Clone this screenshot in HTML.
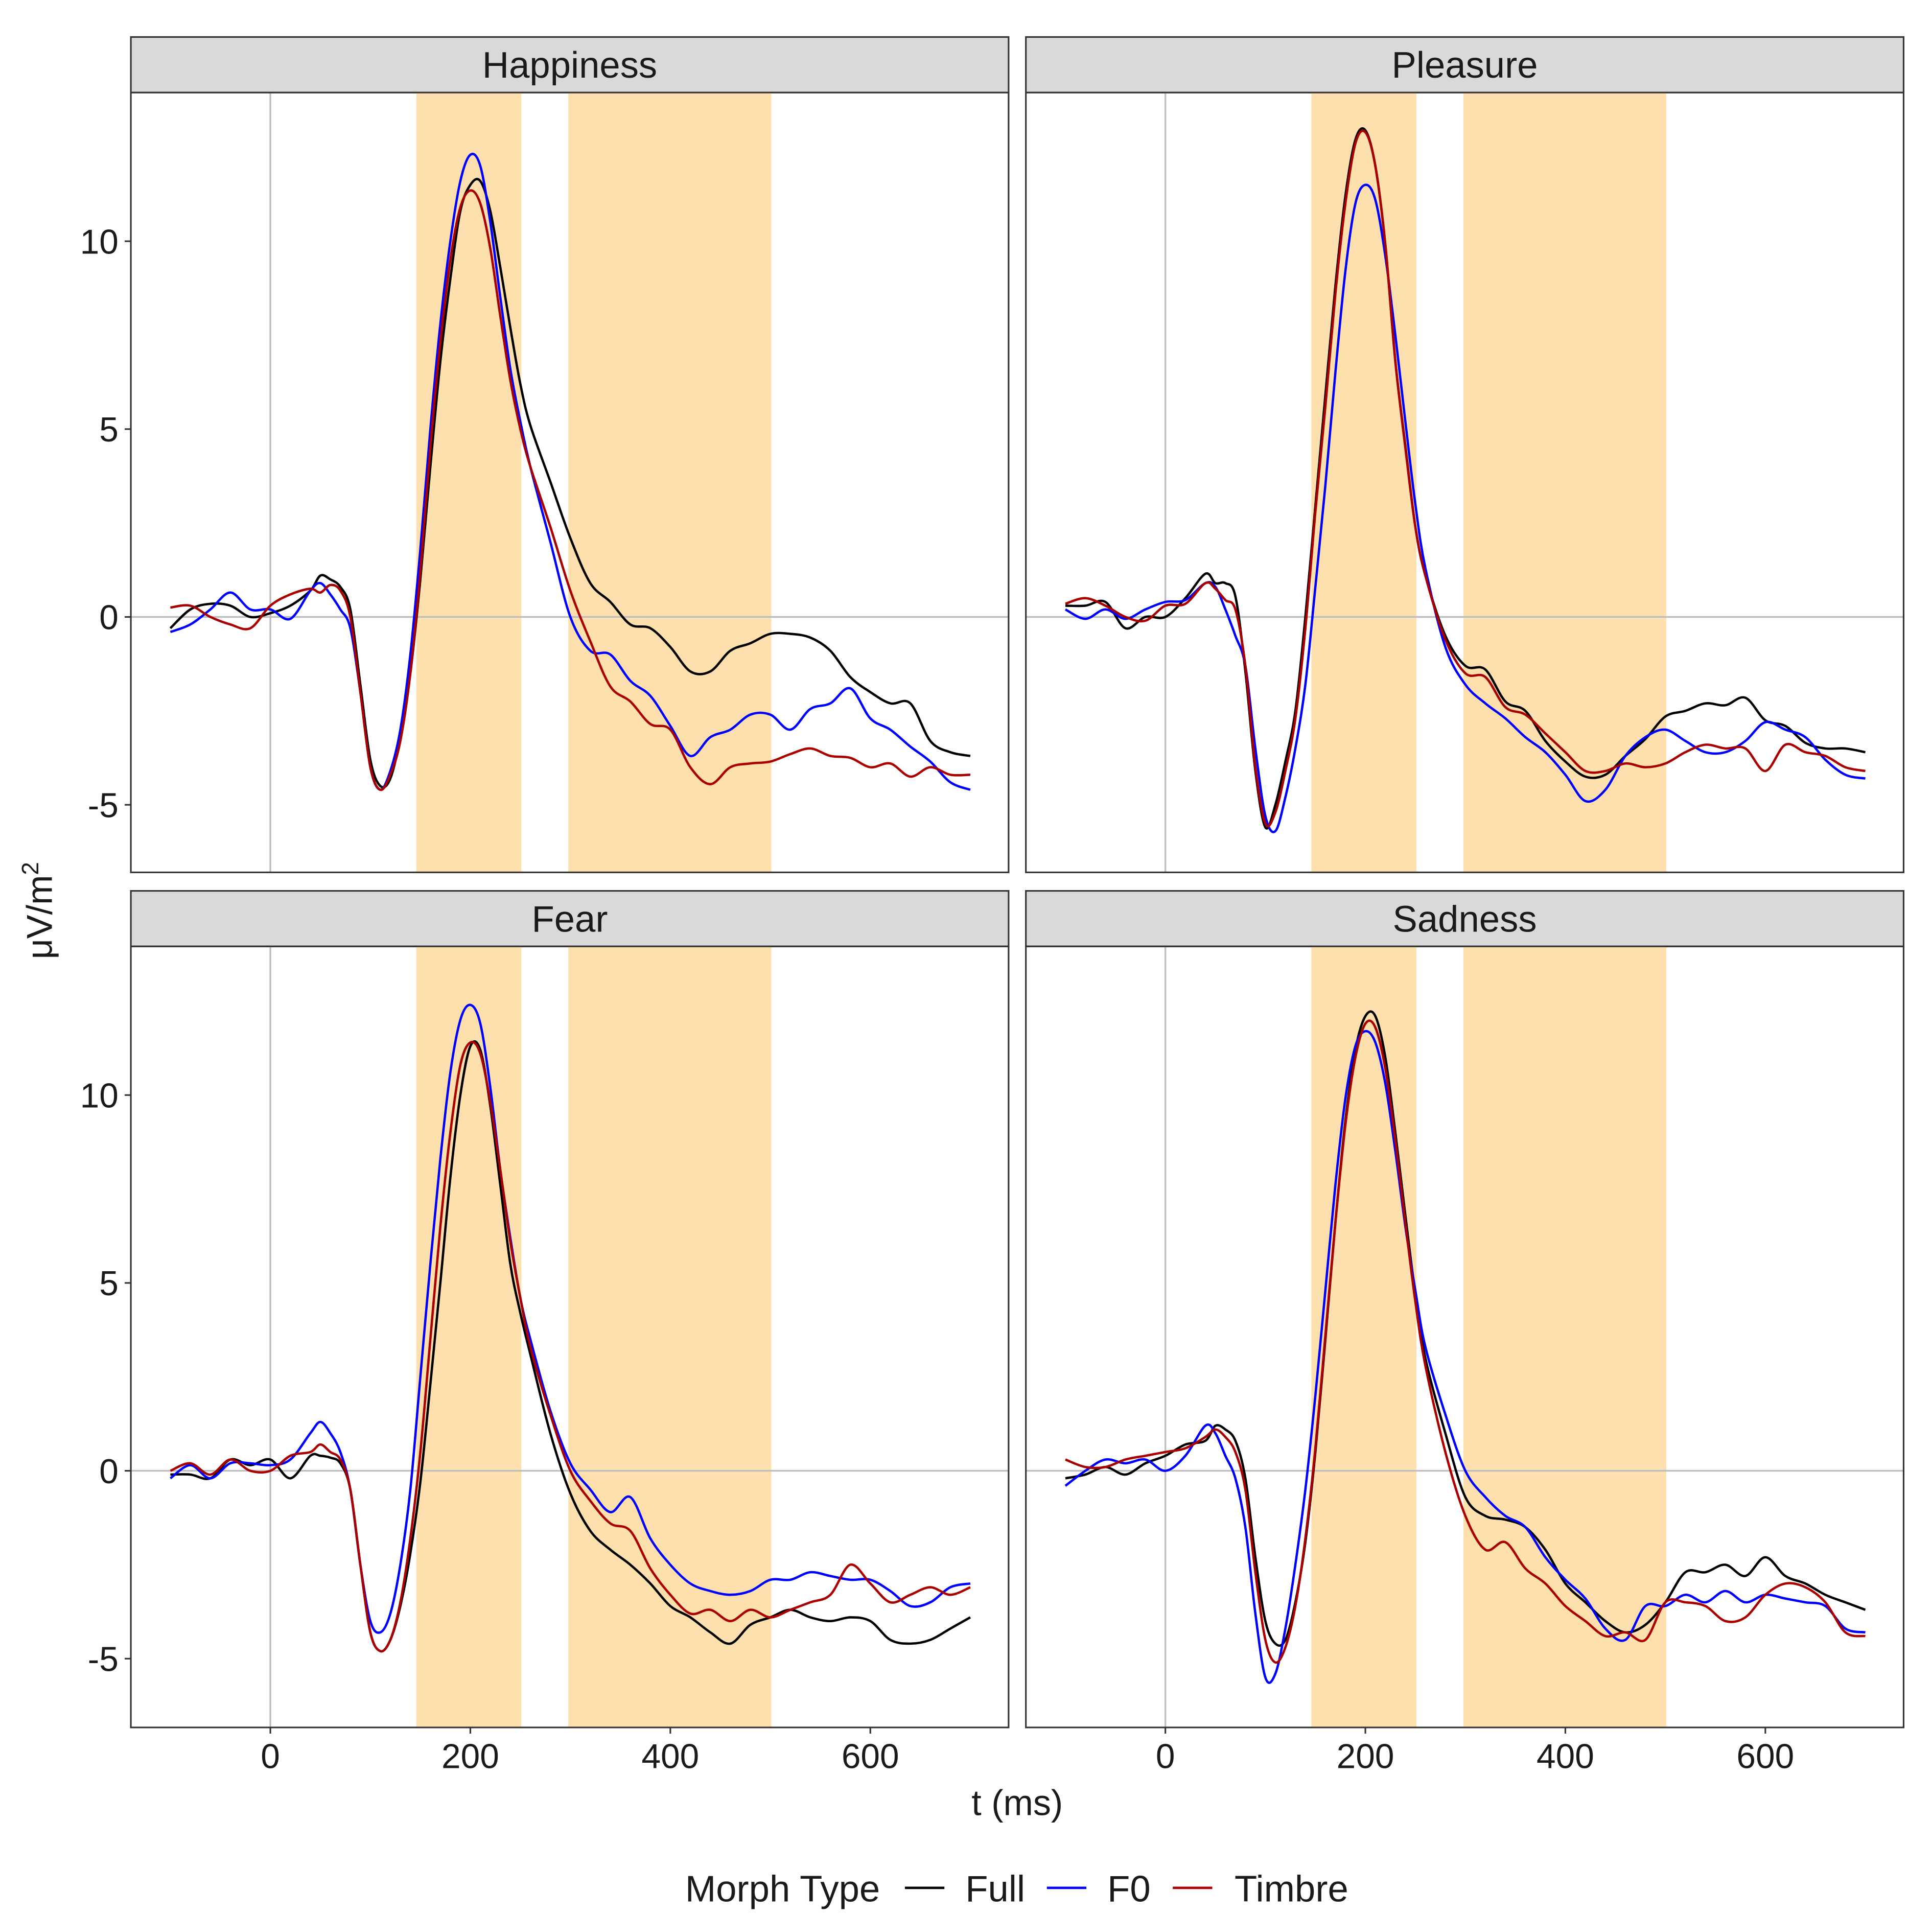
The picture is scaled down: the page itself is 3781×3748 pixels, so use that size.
<!DOCTYPE html>
<html><head><meta charset="utf-8"><style>
html,body{margin:0;padding:0;background:#fff;}
svg{display:block;}
text{font-family:"Liberation Sans",Arial,sans-serif;fill:#1a1a1a;}
</style></head><body>
<svg id="chart" width="3781" height="3748" viewBox="0 0 1565 1552" preserveAspectRatio="none" xmlns="http://www.w3.org/2000/svg">
<rect x="0" y="0" width="1565" height="1552" fill="#fff"/>
<g id="panels"></g>
<text x="42" y="738" font-size="29" text-anchor="middle" transform="rotate(-90 42 738)">μV/m<tspan font-size="19" dy="-11">2</tspan></text>
<text x="824" y="1471" font-size="29" text-anchor="middle">t (ms)</text>
<g>
<text x="555" y="1541" font-size="30">Morph Type</text>
<line x1="733" y1="1530" x2="765" y2="1530" stroke="#000" stroke-width="2"/>
<text x="782" y="1541" font-size="30">Full</text>
<line x1="848" y1="1530" x2="880" y2="1530" stroke="#0000ff" stroke-width="2"/>
<text x="897" y="1541" font-size="30">F0</text>
<line x1="950" y1="1530" x2="982" y2="1530" stroke="#aa0000" stroke-width="2"/>
<text x="1000" y="1541" font-size="30">Timbre</text>
</g>
</svg>
<script>
const times=[-100,-80,-60,-40,-20,0,20,40,50,60,70,80,90,100,110,120,130,140,150,160,170,180,190,200,210,220,230,240,250,260,280,300,320,340,360,380,400,420,440,460,480,500,520,540,560,580,600,620,640,660,680,700];
const panelNames=["Happiness","Pleasure","Fear","Sadness"];
const seriesNames=["Full","F0","Timbre"];
const yTicks=[-5,0,5,10];
const xTicks=[0,200,400,600];
const windowsMs=[[146,251],[298,501]];

const happyFull=[-0.3,0.2,0.35,0.3,0.0,0.1,0.3,0.7,1.1,1.0,0.8,0.2,-1.8,-3.8,-4.5,-4.3,-3.2,-1.5,1.0,4.0,6.8,9.0,10.8,11.5,11.6,10.8,9.3,7.7,6.2,5.1,3.6,2.1,0.9,0.4,-0.2,-0.3,-0.8,-1.45,-1.45,-0.9,-0.7,-0.45,-0.45,-0.55,-0.9,-1.6,-2.0,-2.3,-2.3,-3.3,-3.6,-3.7];
const happyF0=[-0.4,-0.2,0.2,0.65,0.2,0.2,-0.05,0.7,0.9,0.6,0.2,-0.3,-2.0,-4.0,-4.6,-4.1,-3.0,-1.0,1.8,5.0,7.8,10.0,11.6,12.3,12.0,10.5,8.5,6.6,5.2,4.0,2.0,0.0,-0.9,-1.0,-1.7,-2.1,-2.9,-3.7,-3.2,-3.0,-2.6,-2.6,-3.0,-2.45,-2.3,-1.9,-2.7,-3.0,-3.45,-3.85,-4.4,-4.6];
const happyTimbre=[0.25,0.3,0.0,-0.2,-0.3,0.3,0.6,0.75,0.65,0.85,0.7,0.0,-2.0,-4.0,-4.6,-4.2,-3.3,-1.5,1.2,4.5,7.3,9.5,10.9,11.35,11.0,9.8,8.0,6.3,5.0,4.0,2.4,0.7,-0.65,-1.85,-2.25,-2.85,-3.0,-4.0,-4.45,-4.0,-3.9,-3.85,-3.65,-3.5,-3.7,-3.75,-4.0,-3.9,-4.25,-4.0,-4.2,-4.2];
const pleasFull=[0.3,0.3,0.4,-0.3,0.0,0.0,0.5,1.15,0.9,0.9,0.55,-1.45,-4.1,-5.6,-5.0,-3.85,-2.5,0.0,2.95,5.9,8.8,11.2,12.7,12.95,12.0,9.9,6.8,4.55,2.4,1.1,-0.5,-1.3,-1.4,-2.25,-2.5,-3.3,-3.85,-4.25,-4.2,-3.7,-3.25,-2.65,-2.5,-2.3,-2.35,-2.15,-2.75,-2.9,-3.35,-3.5,-3.5,-3.6];
const pleasF0=[0.2,-0.05,0.2,-0.05,0.2,0.4,0.45,0.9,0.8,0.2,-0.5,-1.3,-3.5,-5.3,-5.7,-4.8,-3.5,-1.8,0.8,3.5,6.5,9.2,11.0,11.5,11.1,9.6,7.5,5.2,3.0,1.3,-0.8,-1.8,-2.3,-2.7,-3.2,-3.6,-4.2,-4.9,-4.6,-3.7,-3.2,-3.0,-3.3,-3.6,-3.6,-3.3,-2.8,-3.0,-3.2,-3.8,-4.2,-4.3];
const pleasTimbre=[0.35,0.5,0.3,0.0,-0.1,0.3,0.35,0.9,0.75,0.45,0.2,-1.3,-4.0,-5.5,-5.2,-4.1,-2.7,-0.3,2.8,5.6,8.6,11.0,12.6,12.9,12.0,9.9,6.8,4.5,2.4,1.1,-0.6,-1.5,-1.6,-2.4,-2.6,-3.1,-3.6,-4.1,-4.1,-3.9,-4.0,-3.9,-3.6,-3.4,-3.5,-3.5,-4.1,-3.4,-3.6,-3.7,-4.0,-4.1];
const fearFull=[-0.1,-0.1,-0.2,0.3,0.15,0.3,-0.2,0.4,0.4,0.35,0.2,-0.5,-2.5,-4.3,-4.8,-4.5,-3.6,-2.2,-0.3,2.3,5.0,7.8,10.0,11.3,11.2,9.7,7.6,5.5,4.2,3.1,1.0,-0.6,-1.6,-2.1,-2.5,-3.0,-3.6,-3.9,-4.3,-4.6,-4.1,-3.9,-3.7,-3.9,-4.0,-3.9,-4.0,-4.5,-4.6,-4.5,-4.2,-3.9];
const fearF0=[-0.2,0.15,-0.2,0.2,0.2,0.15,0.3,1.0,1.3,1.0,0.5,-0.5,-2.5,-4.0,-4.3,-3.8,-2.5,-0.5,2.5,5.5,8.3,10.6,12.0,12.4,11.9,10.2,8.0,6.2,4.6,3.5,1.6,0.2,-0.5,-1.1,-0.7,-1.8,-2.5,-3.0,-3.2,-3.3,-3.2,-2.9,-2.9,-2.7,-2.8,-2.9,-2.9,-3.2,-3.6,-3.5,-3.1,-3.0];
const fearTimbre=[0.0,0.2,-0.1,0.3,0.0,0.0,0.4,0.5,0.7,0.5,0.3,-0.5,-2.5,-4.3,-4.8,-4.5,-3.5,-1.8,0.5,3.5,6.5,9.0,10.8,11.4,11.1,9.8,8.0,6.1,4.6,3.3,1.5,0.0,-0.8,-1.4,-1.6,-2.6,-3.3,-3.8,-3.7,-4.0,-3.7,-3.9,-3.7,-3.5,-3.3,-2.5,-3.0,-3.5,-3.3,-3.1,-3.3,-3.1];
const sadFull=[-0.2,-0.1,0.1,-0.1,0.2,0.4,0.7,0.8,1.2,1.1,0.8,-0.2,-2.3,-4.0,-4.6,-4.5,-3.5,-1.9,0.5,3.5,6.6,9.3,11.2,12.1,12.1,11.0,9.0,6.8,4.7,3.0,1.0,-0.7,-1.2,-1.3,-1.5,-2.1,-3.0,-3.5,-4.0,-4.3,-4.1,-3.5,-2.7,-2.7,-2.5,-2.8,-2.3,-2.8,-3.0,-3.3,-3.5,-3.7];
const sadF0=[-0.4,0.0,0.3,0.2,0.3,0.0,0.4,1.2,1.0,0.4,-0.2,-1.5,-3.8,-5.5,-5.4,-4.2,-2.5,-0.5,2.0,4.8,7.6,9.9,11.3,11.7,11.4,10.3,8.5,6.5,4.8,3.3,1.5,0.0,-0.7,-1.2,-1.5,-2.3,-2.9,-3.4,-4.2,-4.5,-3.6,-3.6,-3.3,-3.5,-3.2,-3.5,-3.3,-3.4,-3.5,-3.6,-4.2,-4.3];
const sadTimbre=[0.3,0.1,0.1,0.3,0.4,0.5,0.6,0.9,1.1,0.9,0.5,-0.5,-2.7,-4.5,-5.1,-4.7,-3.6,-1.8,0.6,3.6,6.6,9.2,11.0,11.9,11.8,10.7,8.8,6.6,4.5,2.8,0.5,-1.2,-2.1,-1.9,-2.6,-3.0,-3.6,-4.0,-4.4,-4.3,-4.5,-3.5,-3.5,-3.6,-4.0,-3.9,-3.3,-3.0,-3.1,-3.5,-4.3,-4.4];

const panelData=[[happyFull,happyF0,happyTimbre],[pleasFull,pleasF0,pleasTimbre],[fearFull,fearF0,fearTimbre],[sadFull,sadF0,sadTimbre]];
const colors=["#000000","#0000ff","#aa0000"];
const NS="http://www.w3.org/2000/svg";
const root=document.getElementById('panels');
function mk(tag,attrs,parent){const e=document.createElementNS(NS,tag);for(const k in attrs)e.setAttribute(k,attrs[k]);parent.appendChild(e);return e;}
const PW=711, colX=[106,831], rowY=[[30,75,707],[722,767,1400]];
function smoothPath(pts){
  let d="M"+pts[0][0].toFixed(2)+","+pts[0][1].toFixed(2);
  for(let i=0;i<pts.length-1;i++){
    const p0=pts[Math.max(0,i-1)],p1=pts[i],p2=pts[i+1],p3=pts[Math.min(pts.length-1,i+2)];
    const c1x=p1[0]+(p2[0]-p0[0])/6,c1y=p1[1]+(p2[1]-p0[1])/6;
    const c2x=p2[0]-(p3[0]-p1[0])/6,c2y=p2[1]-(p3[1]-p1[1])/6;
    d+=" C"+c1x.toFixed(2)+","+c1y.toFixed(2)+" "+c2x.toFixed(2)+","+c2y.toFixed(2)+" "+p2[0].toFixed(2)+","+p2[1].toFixed(2);
  }
  return d;
}
panelNames.forEach((name,pi)=>{
  const c=pi%2,r=Math.floor(pi/2);
  const L=colX[c],R=L+PW,ST=rowY[r][0],T=rowY[r][1],B=rowY[r][2];
  const xs=t=>L+113+t*0.81;
  const zeroY=T+425, per=30.45;
  const ys=v=>zeroY-v*per;
  const g=mk('g',{},root);
  
  
  const strip=mk('rect',{x:L,y:ST,width:PW,height:T-ST,fill:'#d9d9d9',stroke:'#333',"stroke-width":1.3},g);
  
  
  const st=mk('text',{x:(L+R)/2,y:ST+33,"font-size":30,"text-anchor":"middle"},g);
  st.textContent=name;
  
  
  windowsMs.forEach((w,wi)=>{
    const sh=mk('rect',{x:xs(w[0]),y:T,width:xs(w[1])-xs(w[0]),height:B-T,fill:'#fde0ad'},g);
    
    
  });
  const gv=mk('line',{x1:xs(0),x2:xs(0),y1:T,y2:B,stroke:'#bebebe',"stroke-width":1.4},g);
  
  
  const gh=mk('line',{x1:L,x2:R,y1:ys(0),y2:ys(0),stroke:'#bebebe',"stroke-width":1.4},g);
  
  
  panelData[pi].forEach((vals,si)=>{
    const pts=vals.map((v,i)=>[xs(times[i]),ys(v)]);
    const p=mk('path',{d:smoothPath(pts),fill:'none',stroke:colors[si],"stroke-width":1.9,"stroke-linejoin":"round"},g);
    
    
  });
  const fr=mk('rect',{x:L,y:T,width:PW,height:B-T,fill:'none',stroke:'#333',"stroke-width":1.3},g);
  
  
  if(c===0){
    yTicks.forEach(v=>{
      const tk=mk('line',{x1:L-5,x2:L,y1:ys(v),y2:ys(v),stroke:'#333',"stroke-width":1.3},g);
      
      
      const tl=mk('text',{x:L-10,y:ys(v)+10,"font-size":28,"text-anchor":"end",fill:'#1a1a1a'},g);
      tl.textContent=v;
      
      
    });
  }
  if(r===1){
    xTicks.forEach(v=>{
      const tk=mk('line',{x1:xs(v),x2:xs(v),y1:B,y2:B+5,stroke:'#333',"stroke-width":1.3},g);
      
      
      const tl=mk('text',{x:xs(v),y:B+33,"font-size":28,"text-anchor":"middle"},g);
      tl.textContent=v;
      
      
    });
  }
});
</script>
</body></html>
